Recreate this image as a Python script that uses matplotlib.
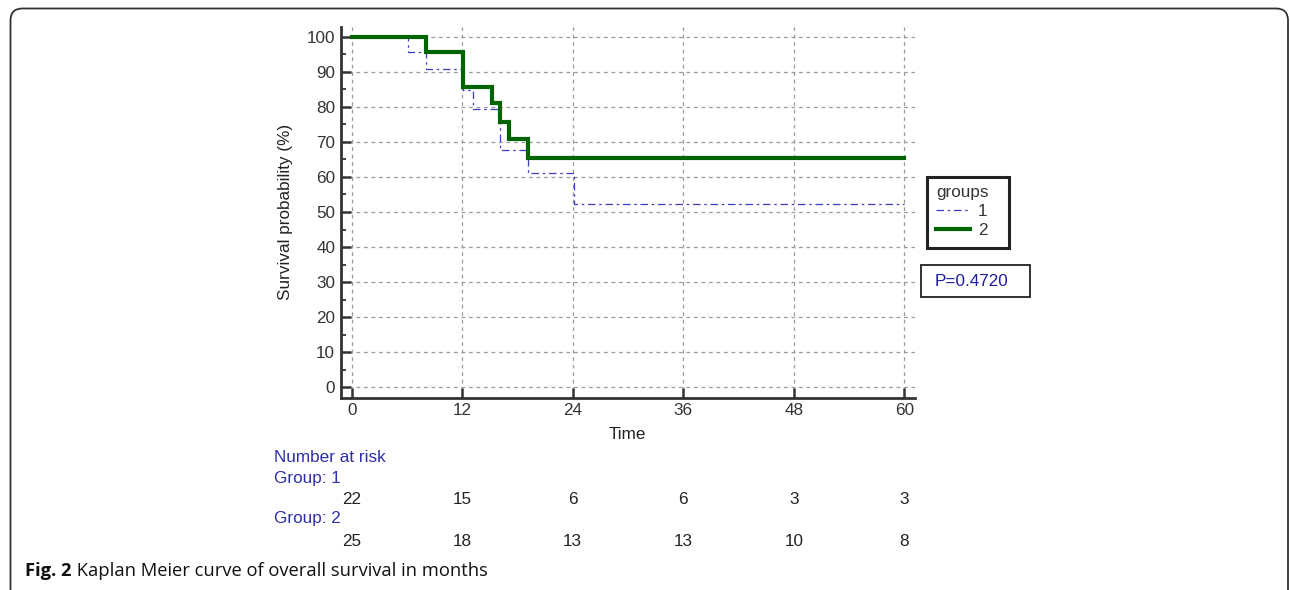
import matplotlib
matplotlib.use("Agg")
import matplotlib.pyplot as plt
from matplotlib.patches import FancyBboxPatch, Rectangle
from matplotlib.transforms import IdentityTransform, blended_transform_factory
from matplotlib.ticker import MultipleLocator

# ---------------- data ----------------
g1_time = [0, 6.1, 8.1, 12.1, 13.2, 16.1, 19.1, 24.1, 60]
g1_surv = [100, 95.5, 90.9, 84.8, 79.3, 67.8, 61.0, 52.3, 52.3]
g2_time = [0, 8.1, 12.1, 15.2, 16.1, 17.1, 19.1, 60]
g2_surv = [100, 95.6, 85.7, 81.0, 75.7, 70.7, 65.4, 65.4]
group_labels = ["1", "2"]
x_ticks = [0, 12, 24, 36, 48, 60]
y_ticks = [0, 10, 20, 30, 40, 50, 60, 70, 80, 90, 100]
risk_g1 = [22, 15, 6, 6, 3, 3]
risk_g2 = [25, 18, 13, 13, 10, 8]
p_text = "P=0.4720"
caption_bold = "Fig. 2"
caption_rest = " Kaplan Meier curve of overall survival in months"

W, H = 1290, 590
fig = plt.figure(figsize=(W / 100, H / 100), dpi=100)
plt.rcParams['font.family'] = ['Liberation Sans', 'DejaVu Sans']
FS = 12.3

# axes placement (pixel coordinates)
ax_l, ax_r, ax_t, ax_b = 340.7, 915.0, 27.0, 397.7
ax = fig.add_axes([ax_l / W, 1 - ax_b / H, (ax_r - ax_l) / W, (ax_b - ax_t) / H])

px_per_x = (904.3 - 351.7) / 60
px_per_y = (387.3 - 36.7) / 100
ax.set_xlim(0 - (351.7 - ax_l) / px_per_x, 60 + (ax_r - 904.3) / px_per_x)
ax.set_ylim(0 - (ax_b - 387.3) / px_per_y, 100 + (36.7 - ax_t) / px_per_y)

blue = '#3c3cc0'
green = '#006400'
l1, = ax.step(g1_time, g1_surv, where='post', color=blue, lw=0.9,
              linestyle=(0, (6, 3, 2, 3)), zorder=3)
l2, = ax.step(g2_time, g2_surv, where='post', color=green, lw=3.0, zorder=4,
              solid_joinstyle='miter')

ax.set_xticks(x_ticks)
ax.set_yticks(y_ticks)
ax.yaxis.set_minor_locator(MultipleLocator(5))
ax.grid(True, which='major', color='#9a9a9a', linestyle=(0, (3, 3)), lw=0.9)
for s in ['top', 'right']:
    ax.spines[s].set_visible(False)
for s in ['left', 'bottom']:
    ax.spines[s].set_linewidth(2.0)
    ax.spines[s].set_color('#333333')
ax.tick_params(axis='both', which='major', direction='in', length=7.3, width=1.8,
               color='#333333', labelsize=FS, labelcolor='#333333', pad=4)
ax.tick_params(axis='y', which='minor', direction='in', length=3.6, width=1.3,
               color='#333333')
ax.set_xlabel('Time', fontsize=FS, color='#222222', labelpad=6)
ax.set_ylabel('Survival probability (%)', fontsize=FS, color='#222222', labelpad=10)

# legend (content only) + hand-drawn frame matching the reference box
leg = fig.legend([l1, l2], group_labels, title='groups', loc='upper left',
                 bbox_to_anchor=(929.0 / W, 1 - 178.0 / H), frameon=False,
                 fontsize=FS, title_fontsize=FS, handlelength=2.0,
                 handletextpad=0.45, borderpad=0.4, labelspacing=0.25,
                 alignment='left', borderaxespad=0)
for t in leg.get_texts():
    t.set_color('#333333')
leg.get_title().set_color('#333333')
lfr = Rectangle((927 / W, 1 - 248 / H), (1009 - 927) / W, (248 - 177) / H,
                transform=fig.transFigure, fill=False, edgecolor='#222222', lw=2.2)
fig.add_artist(lfr)

# P-value box
pb = Rectangle((921 / W, 1 - 297 / H), (1030 - 921) / W, (297 - 265) / H,
               transform=fig.transFigure, fill=False, edgecolor='#222222', lw=1.3)
fig.add_artist(pb)
fig.text(971 / W, 1 - 282 / H, p_text, ha='center', va='center', fontsize=FS,
         color='#1c1ca0')

# number at risk
navy = '#2e2ea8'
tr = blended_transform_factory(ax.transData, fig.transFigure)
fig.text(274 / W, 1 - 457 / H, 'Number at risk', fontsize=FS, color=navy, va='center')
fig.text(274 / W, 1 - 478 / H, 'Group: 1', fontsize=FS, color=navy, va='center')
fig.text(274 / W, 1 - 519 / H, 'Group: 2', fontsize=FS, color=navy, va='center')
for xv, n in zip(x_ticks, risk_g1):
    ax.text(xv, 1 - 499 / H, str(n), transform=tr, ha='center', va='center',
            fontsize=FS, color='#222222', clip_on=False)
for xv, n in zip(x_ticks, risk_g2):
    ax.text(xv, 1 - 541 / H, str(n), transform=tr, ha='center', va='center',
            fontsize=FS, color='#222222', clip_on=False)

# outer rounded border
border = FancyBboxPatch((10.5, -30), 1277.5, H - 8.5 + 30,
                        boxstyle='round,pad=0,rounding_size=12',
                        transform=IdentityTransform(), fill=False,
                        edgecolor='#333333', lw=1.3)
fig.add_artist(border)

# caption
cap = fig.text(25 / W, 1 - 576 / H, caption_bold, fontsize=13.2, fontweight='bold',
               family=['Open Sans', 'DejaVu Sans'], color='#111111', va='baseline')
fig.canvas.draw()
bb = cap.get_window_extent()
fig.text(bb.x1 / W, 1 - 576 / H, caption_rest, fontsize=13.2,
         family=['Open Sans', 'DejaVu Sans'], color='#111111', va='baseline')

fig.savefig('out.png', dpi=100)
